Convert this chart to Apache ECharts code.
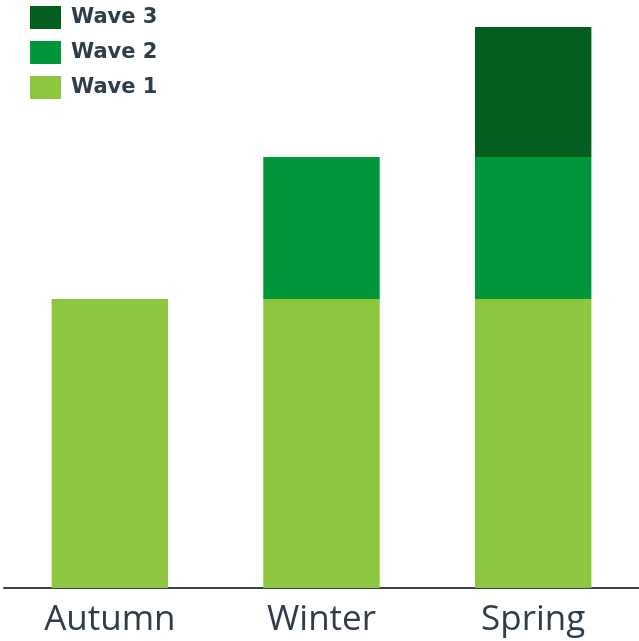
<!DOCTYPE html>
<html>
<head>
<meta charset="utf-8">
<script src="https://cdn.jsdelivr.net/npm/echarts@6/dist/echarts.min.js"></script>
<style>
html,body{margin:0;padding:0;background:#fff;}
#c{width:639px;height:641px;}
</style>
</head>
<body>
<div id="c"></div>
<script>
const categories = ["Autumn", "Winter", "Spring"];
const wave1 = [289, 289, 289];
const wave2 = [null, 142, 142];
const wave3 = [null, null, 130];
const seriesNames = ["Wave 1", "Wave 2", "Wave 3"];
const colors = ["#8dc63f", "#009639", "#045e1f"];

const chart = echarts.init(document.getElementById('c'), null, {renderer: 'canvas'});
const dataSets = [wave1, wave2, wave3];
chart.setOption({
  animation: false,
  color: colors,
  legend: {
    data: seriesNames.slice().reverse(),
    orient: 'vertical',
    left: 30,
    top: 6,
    padding: 0,
    itemWidth: 31,
    itemHeight: 23,
    itemGap: 12,
    icon: 'rect',
    textStyle: {fontFamily: 'DejaVu Sans', fontWeight: 'bold', fontSize: 21, color: '#2f3d4b', padding: [0, 0, 0, 5]},
    selectedMode: false
  },
  grid: {left: 4, right: 0, top: 26, bottom: 53, containLabel: false},
  xAxis: {
    type: 'category',
    data: categories,
    axisTick: {show: false},
    axisLine: {lineStyle: {color: '#37424d', width: 2}},
    axisLabel: {fontFamily: 'Open Sans', fontSize: 35, color: '#2f3d4b', margin: 15}
  },
  yAxis: {
    type: 'value', min: 0, max: 562, show: false, splitLine: {show: false}
  },
  series: dataSets.map((d, i) => ({
    name: seriesNames[i],
    type: 'bar',
    stack: 'total',
    barWidth: '55%',
    data: d,
    itemStyle: {color: colors[i]}
  }))
});
</script>
</body>
</html>
